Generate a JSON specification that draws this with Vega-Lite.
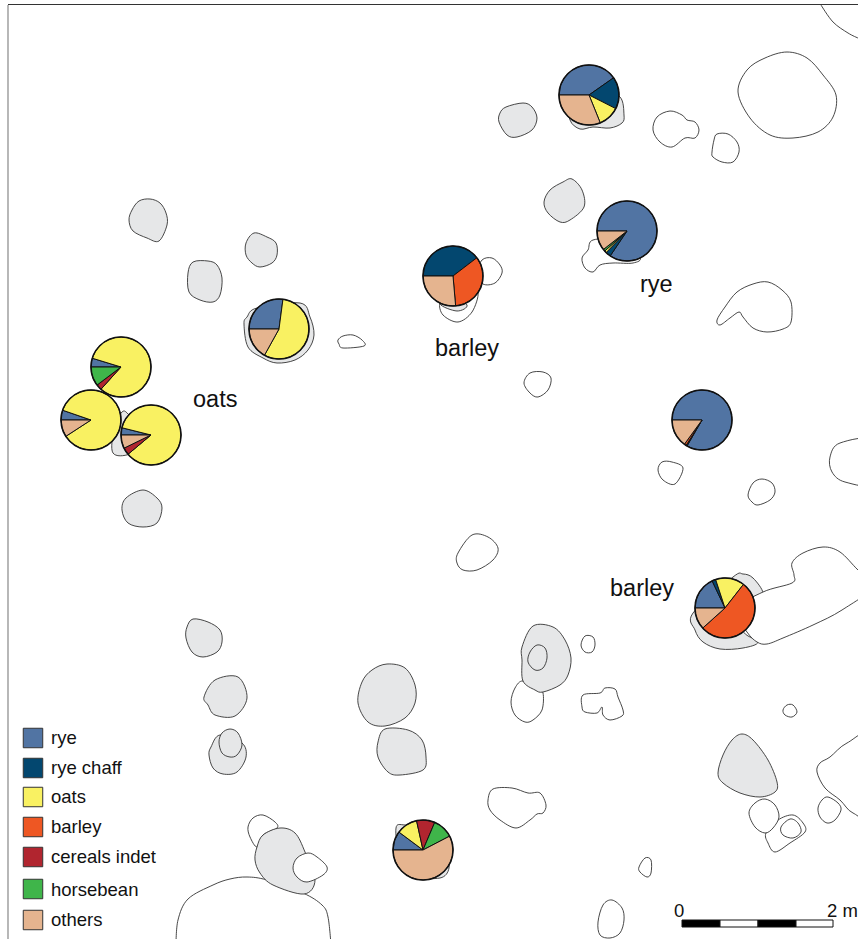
{"$schema":"https://vega.github.io/schema/vega-lite/v6.json","width":858,"height":939,"padding":0,"autosize":"none","background":"white","config":{"view":{"stroke":null},"text":{"font":"Liberation Sans"}},
"datasets":{
"open":[
{"s":"o1","x":821,"y":5},{"s":"o1","x":833,"y":22},{"s":"o1","x":848,"y":33},{"s":"o1","x":858,"y":38},
{"s":"o2","x":176,"y":945},{"s":"o2","x":178,"y":920},{"s":"o2","x":188,"y":899},{"s":"o2","x":213,"y":885},{"s":"o2","x":230,"y":879},{"s":"o2","x":247,"y":877},{"s":"o2","x":267,"y":880},{"s":"o2","x":303,"y":893},{"s":"o2","x":322,"y":905},{"s":"o2","x":328,"y":917},{"s":"o2","x":331,"y":945}
],
"closed":[
{"s":"w26","k":"e","x":263,"y":815},{"s":"w26","k":"e","x":275,"y":822},{"s":"w26","k":"e","x":277,"y":828},{"s":"w26","k":"e","x":263,"y":835},{"s":"w26","k":"e","x":257,"y":847},{"s":"w26","k":"e","x":250,"y":837},{"s":"w26","k":"e","x":248,"y":827},{"s":"w26","k":"e","x":253,"y":818},
{"s":"g1","k":"f","x":139,"y":201},{"s":"g1","k":"f","x":150,"y":199},{"s":"g1","k":"f","x":160,"y":203},{"s":"g1","k":"f","x":166,"y":213},{"s":"g1","k":"f","x":167,"y":225},{"s":"g1","k":"f","x":159,"y":241},{"s":"g1","k":"f","x":147,"y":238},{"s":"g1","k":"f","x":133,"y":231},{"s":"g1","k":"f","x":129,"y":220},{"s":"g1","k":"f","x":132,"y":210},
{"s":"g2","k":"f","x":254,"y":233},{"s":"g2","k":"f","x":267,"y":237},{"s":"g2","k":"f","x":276,"y":243},{"s":"g2","k":"f","x":277,"y":255},{"s":"g2","k":"f","x":272,"y":263},{"s":"g2","k":"f","x":260,"y":267},{"s":"g2","k":"f","x":252,"y":263},{"s":"g2","k":"f","x":246,"y":255},{"s":"g2","k":"f","x":246,"y":243},
{"s":"g3","k":"f","x":193,"y":262},{"s":"g3","k":"f","x":208,"y":261},{"s":"g3","k":"f","x":217,"y":265},{"s":"g3","k":"f","x":222,"y":278},{"s":"g3","k":"f","x":220,"y":295},{"s":"g3","k":"f","x":213,"y":302},{"s":"g3","k":"f","x":200,"y":300},{"s":"g3","k":"f","x":189,"y":292},{"s":"g3","k":"f","x":188,"y":273},
{"s":"g4","k":"f","x":257,"y":308},{"s":"g4","k":"f","x":247,"y":317},{"s":"g4","k":"f","x":244,"y":324},{"s":"g4","k":"f","x":248,"y":347},{"s":"g4","k":"f","x":263,"y":358},{"s":"g4","k":"f","x":277,"y":363},{"s":"g4","k":"f","x":295,"y":360},{"s":"g4","k":"f","x":308,"y":350},{"s":"g4","k":"f","x":314,"y":335},{"s":"g4","k":"f","x":310,"y":317},{"s":"g4","k":"f","x":300,"y":303},
{"s":"w1","k":"e","x":338,"y":340},{"s":"w1","k":"e","x":343,"y":336},{"s":"w1","k":"e","x":353,"y":335},{"s":"w1","k":"e","x":362,"y":340},{"s":"w1","k":"e","x":364,"y":346},{"s":"w1","k":"e","x":343,"y":348},{"s":"w1","k":"e","x":339,"y":344},
{"s":"g5","k":"f","x":122,"y":412},{"s":"g5","k":"f","x":130,"y":416},{"s":"g5","k":"f","x":150,"y":440},{"s":"g5","k":"f","x":130,"y":454},{"s":"g5","k":"f","x":113,"y":453},{"s":"g5","k":"f","x":114,"y":430},
{"s":"g6","k":"f","x":143,"y":490},{"s":"g6","k":"f","x":157,"y":498},{"s":"g6","k":"f","x":162,"y":508},{"s":"g6","k":"f","x":157,"y":523},{"s":"g6","k":"f","x":143,"y":527},{"s":"g6","k":"f","x":128,"y":523},{"s":"g6","k":"f","x":122,"y":510},{"s":"g6","k":"f","x":126,"y":498},
{"s":"w2","k":"e","x":787,"y":52},{"s":"w2","k":"e","x":807,"y":58},{"s":"w2","k":"e","x":823,"y":75},{"s":"w2","k":"e","x":836,"y":95},{"s":"w2","k":"e","x":833,"y":117},{"s":"w2","k":"e","x":818,"y":132},{"s":"w2","k":"e","x":793,"y":138},{"s":"w2","k":"e","x":770,"y":135},{"s":"w2","k":"e","x":750,"y":118},{"s":"w2","k":"e","x":738,"y":92},{"s":"w2","k":"e","x":747,"y":70},{"s":"w2","k":"e","x":765,"y":58},
{"s":"g7","k":"f","x":506,"y":107},{"s":"g7","k":"f","x":523,"y":103},{"s":"g7","k":"f","x":532,"y":107},{"s":"g7","k":"f","x":537,"y":118},{"s":"g7","k":"f","x":532,"y":130},{"s":"g7","k":"f","x":517,"y":137},{"s":"g7","k":"f","x":507,"y":135},{"s":"g7","k":"f","x":499,"y":122},{"s":"g7","k":"f","x":500,"y":113},
{"s":"g8","k":"f","x":570,"y":120},{"s":"g8","k":"f","x":580,"y":129},{"s":"g8","k":"f","x":593,"y":127},{"s":"g8","k":"f","x":610,"y":128},{"s":"g8","k":"f","x":622,"y":123},{"s":"g8","k":"f","x":624,"y":115},{"s":"g8","k":"f","x":620,"y":97},{"s":"g8","k":"f","x":600,"y":90},{"s":"g8","k":"f","x":570,"y":100},
{"s":"w3","k":"e","x":670,"y":111},{"s":"w3","k":"e","x":682,"y":115},{"s":"w3","k":"e","x":687,"y":120},{"s":"w3","k":"e","x":695,"y":122},{"s":"w3","k":"e","x":699,"y":130},{"s":"w3","k":"e","x":695,"y":138},{"s":"w3","k":"e","x":685,"y":138},{"s":"w3","k":"e","x":672,"y":147},{"s":"w3","k":"e","x":660,"y":142},{"s":"w3","k":"e","x":653,"y":130},{"s":"w3","k":"e","x":657,"y":117},
{"s":"w4","k":"e","x":717,"y":134},{"s":"w4","k":"e","x":728,"y":134},{"s":"w4","k":"e","x":737,"y":142},{"s":"w4","k":"e","x":739,"y":152},{"s":"w4","k":"e","x":733,"y":162},{"s":"w4","k":"e","x":722,"y":162},{"s":"w4","k":"e","x":713,"y":157},{"s":"w4","k":"e","x":712,"y":152},{"s":"w4","k":"e","x":714,"y":140},
{"s":"g9","k":"f","x":563,"y":182},{"s":"g9","k":"f","x":572,"y":179},{"s":"g9","k":"f","x":582,"y":190},{"s":"g9","k":"f","x":584,"y":207},{"s":"g9","k":"f","x":570,"y":220},{"s":"g9","k":"f","x":560,"y":222},{"s":"g9","k":"f","x":548,"y":213},{"s":"g9","k":"f","x":544,"y":202},{"s":"g9","k":"f","x":550,"y":190},
{"s":"w5","k":"e","x":593,"y":240},{"s":"w5","k":"e","x":588,"y":250},{"s":"w5","k":"e","x":582,"y":258},{"s":"w5","k":"e","x":585,"y":268},{"s":"w5","k":"e","x":593,"y":272},{"s":"w5","k":"e","x":600,"y":265},{"s":"w5","k":"e","x":613,"y":263},{"s":"w5","k":"e","x":633,"y":263},{"s":"w5","k":"e","x":640,"y":257},{"s":"w5","k":"e","x":620,"y":240},
{"s":"w6","k":"e","x":482,"y":260},{"s":"w6","k":"e","x":492,"y":258},{"s":"w6","k":"e","x":500,"y":265},{"s":"w6","k":"e","x":502,"y":273},{"s":"w6","k":"e","x":495,"y":283},{"s":"w6","k":"e","x":483,"y":284},{"s":"w6","k":"e","x":477,"y":273},
{"s":"w7","k":"e","x":440,"y":303},{"s":"w7","k":"e","x":443,"y":315},{"s":"w7","k":"e","x":458,"y":322},{"s":"w7","k":"e","x":472,"y":312},{"s":"w7","k":"e","x":478,"y":293},{"s":"w7","k":"e","x":467,"y":293},{"s":"w7","k":"e","x":450,"y":300},
{"s":"g10","k":"f","x":440,"y":304},{"s":"g10","k":"f","x":457,"y":311},{"s":"g10","k":"f","x":467,"y":305},{"s":"g10","k":"f","x":450,"y":295},
{"s":"w8","k":"e","x":753,"y":284},{"s":"w8","k":"e","x":768,"y":282},{"s":"w8","k":"e","x":782,"y":290},{"s":"w8","k":"e","x":791,"y":302},{"s":"w8","k":"e","x":791,"y":322},{"s":"w8","k":"e","x":783,"y":329},{"s":"w8","k":"e","x":767,"y":332},{"s":"w8","k":"e","x":753,"y":328},{"s":"w8","k":"e","x":743,"y":317},{"s":"w8","k":"e","x":739,"y":312},{"s":"w8","k":"e","x":730,"y":318},{"s":"w8","k":"e","x":720,"y":325},{"s":"w8","k":"e","x":717,"y":320},{"s":"w8","k":"e","x":725,"y":307},{"s":"w8","k":"e","x":737,"y":292},
{"s":"w9","k":"e","x":530,"y":373},{"s":"w9","k":"e","x":543,"y":372},{"s":"w9","k":"e","x":551,"y":378},{"s":"w9","k":"e","x":548,"y":390},{"s":"w9","k":"e","x":538,"y":397},{"s":"w9","k":"e","x":530,"y":393},{"s":"w9","k":"e","x":524,"y":383},
{"s":"w10","k":"e","x":662,"y":462},{"s":"w10","k":"e","x":672,"y":462},{"s":"w10","k":"e","x":683,"y":468},{"s":"w10","k":"e","x":675,"y":484},{"s":"w10","k":"e","x":663,"y":480},{"s":"w10","k":"e","x":658,"y":470},
{"s":"w11","k":"e","x":762,"y":479},{"s":"w11","k":"e","x":772,"y":483},{"s":"w11","k":"e","x":775,"y":492},{"s":"w11","k":"e","x":770,"y":500},{"s":"w11","k":"e","x":758,"y":505},{"s":"w11","k":"e","x":752,"y":502},{"s":"w11","k":"e","x":748,"y":495},{"s":"w11","k":"e","x":753,"y":483},
{"s":"w12","k":"e","x":875,"y":441},{"s":"w12","k":"e","x":840,"y":443},{"s":"w12","k":"e","x":830,"y":457},{"s":"w12","k":"e","x":832,"y":472},{"s":"w12","k":"e","x":845,"y":482},{"s":"w12","k":"e","x":875,"y":483},
{"s":"w13","k":"e","x":472,"y":535},{"s":"w13","k":"e","x":488,"y":537},{"s":"w13","k":"e","x":498,"y":548},{"s":"w13","k":"e","x":493,"y":560},{"s":"w13","k":"e","x":477,"y":570},{"s":"w13","k":"e","x":463,"y":570},{"s":"w13","k":"e","x":457,"y":563},{"s":"w13","k":"e","x":458,"y":553},
{"s":"g11","k":"f","x":733,"y":577},{"s":"g11","k":"f","x":743,"y":574},{"s":"g11","k":"f","x":753,"y":578},{"s":"g11","k":"f","x":763,"y":593},{"s":"g11","k":"f","x":755,"y":602},{"s":"g11","k":"f","x":743,"y":630},{"s":"g11","k":"f","x":758,"y":642},{"s":"g11","k":"f","x":743,"y":648},{"s":"g11","k":"f","x":720,"y":649},{"s":"g11","k":"f","x":703,"y":642},{"s":"g11","k":"f","x":695,"y":630},{"s":"g11","k":"f","x":693,"y":613},
{"s":"w14","k":"e","x":763,"y":592},{"s":"w14","k":"e","x":792,"y":583},{"s":"w14","k":"e","x":794,"y":575},{"s":"w14","k":"e","x":792,"y":563},{"s":"w14","k":"e","x":803,"y":553},{"s":"w14","k":"e","x":823,"y":547},{"s":"w14","k":"e","x":840,"y":552},{"s":"w14","k":"e","x":858,"y":570},{"s":"w14","k":"e","x":875,"y":585},{"s":"w14","k":"e","x":842,"y":610},{"s":"w14","k":"e","x":813,"y":625},{"s":"w14","k":"e","x":783,"y":638},{"s":"w14","k":"e","x":767,"y":644},{"s":"w14","k":"e","x":757,"y":642},{"s":"w14","k":"e","x":747,"y":632},{"s":"w14","k":"e","x":735,"y":610},
{"s":"w15","k":"e","x":523,"y":681},{"s":"w15","k":"e","x":537,"y":690},{"s":"w15","k":"e","x":543,"y":693},{"s":"w15","k":"e","x":542,"y":710},{"s":"w15","k":"e","x":533,"y":720},{"s":"w15","k":"e","x":525,"y":722},{"s":"w15","k":"e","x":515,"y":715},{"s":"w15","k":"e","x":511,"y":702},{"s":"w15","k":"e","x":515,"y":688},
{"s":"g12","k":"f","x":533,"y":626},{"s":"g12","k":"f","x":553,"y":627},{"s":"g12","k":"f","x":565,"y":640},{"s":"g12","k":"f","x":571,"y":658},{"s":"g12","k":"f","x":568,"y":675},{"s":"g12","k":"f","x":560,"y":685},{"s":"g12","k":"f","x":543,"y":692},{"s":"g12","k":"f","x":535,"y":690},{"s":"g12","k":"f","x":523,"y":681},{"s":"g12","k":"f","x":522,"y":660},{"s":"g12","k":"f","x":522,"y":647},
{"s":"g13","k":"f","x":537,"y":645},{"s":"g13","k":"f","x":545,"y":648},{"s":"g13","k":"f","x":547,"y":658},{"s":"g13","k":"f","x":543,"y":668},{"s":"g13","k":"f","x":535,"y":670},{"s":"g13","k":"f","x":528,"y":662},{"s":"g13","k":"f","x":530,"y":652},
{"s":"w16","k":"e","x":585,"y":636},{"s":"w16","k":"e","x":593,"y":637},{"s":"w16","k":"e","x":595,"y":645},{"s":"w16","k":"e","x":592,"y":652},{"s":"w16","k":"e","x":585,"y":652},{"s":"w16","k":"e","x":581,"y":645},
{"s":"w17","k":"e","x":583,"y":695},{"s":"w17","k":"e","x":600,"y":693},{"s":"w17","k":"e","x":605,"y":688},{"s":"w17","k":"e","x":615,"y":689},{"s":"w17","k":"e","x":618,"y":697},{"s":"w17","k":"e","x":623,"y":710},{"s":"w17","k":"e","x":622,"y":716},{"s":"w17","k":"e","x":610,"y":720},{"s":"w17","k":"e","x":603,"y":715},{"s":"w17","k":"e","x":602,"y":707},{"s":"w17","k":"e","x":597,"y":713},{"s":"w17","k":"e","x":585,"y":712},{"s":"w17","k":"e","x":582,"y":707},
{"s":"w18","k":"e","x":787,"y":705},{"s":"w18","k":"e","x":793,"y":705},{"s":"w18","k":"e","x":797,"y":712},{"s":"w18","k":"e","x":792,"y":717},{"s":"w18","k":"e","x":785,"y":715},{"s":"w18","k":"e","x":783,"y":710},
{"s":"g14","k":"f","x":742,"y":734},{"s":"g14","k":"f","x":753,"y":740},{"s":"g14","k":"f","x":768,"y":760},{"s":"g14","k":"f","x":777,"y":782},{"s":"g14","k":"f","x":775,"y":792},{"s":"g14","k":"f","x":760,"y":797},{"s":"g14","k":"f","x":740,"y":793},{"s":"g14","k":"f","x":723,"y":783},{"s":"g14","k":"f","x":718,"y":773},{"s":"g14","k":"f","x":723,"y":755},{"s":"g14","k":"f","x":732,"y":740},
{"s":"w19","k":"e","x":875,"y":735},{"s":"w19","k":"e","x":847,"y":743},{"s":"w19","k":"e","x":830,"y":757},{"s":"w19","k":"e","x":820,"y":763},{"s":"w19","k":"e","x":817,"y":772},{"s":"w19","k":"e","x":825,"y":788},{"s":"w19","k":"e","x":840,"y":800},{"s":"w19","k":"e","x":853,"y":813},{"s":"w19","k":"e","x":875,"y":816},
{"s":"w20","k":"e","x":828,"y":797},{"s":"w20","k":"e","x":838,"y":803},{"s":"w20","k":"e","x":841,"y":810},{"s":"w20","k":"e","x":835,"y":820},{"s":"w20","k":"e","x":827,"y":823},{"s":"w20","k":"e","x":820,"y":817},{"s":"w20","k":"e","x":818,"y":808},{"s":"w20","k":"e","x":822,"y":800},
{"s":"w22","k":"e","x":778,"y":820},{"s":"w22","k":"e","x":793,"y":815},{"s":"w22","k":"e","x":803,"y":823},{"s":"w22","k":"e","x":805,"y":832},{"s":"w22","k":"e","x":790,"y":843},{"s":"w22","k":"e","x":775,"y":852},{"s":"w22","k":"e","x":768,"y":843},{"s":"w22","k":"e","x":766,"y":833},
{"s":"w21","k":"e","x":765,"y":799},{"s":"w21","k":"e","x":775,"y":805},{"s":"w21","k":"e","x":779,"y":817},{"s":"w21","k":"e","x":773,"y":828},{"s":"w21","k":"e","x":765,"y":833},{"s":"w21","k":"e","x":755,"y":827},{"s":"w21","k":"e","x":749,"y":813},{"s":"w21","k":"e","x":755,"y":803},
{"s":"w23","k":"e","x":790,"y":819},{"s":"w23","k":"e","x":798,"y":823},{"s":"w23","k":"e","x":801,"y":832},{"s":"w23","k":"e","x":793,"y":838},{"s":"w23","k":"e","x":783,"y":835},{"s":"w23","k":"e","x":781,"y":827},
{"s":"w24","k":"e","x":493,"y":789},{"s":"w24","k":"e","x":512,"y":788},{"s":"w24","k":"e","x":528,"y":793},{"s":"w24","k":"e","x":540,"y":793},{"s":"w24","k":"e","x":546,"y":805},{"s":"w24","k":"e","x":543,"y":813},{"s":"w24","k":"e","x":537,"y":814},{"s":"w24","k":"e","x":530,"y":820},{"s":"w24","k":"e","x":516,"y":828},{"s":"w24","k":"e","x":500,"y":820},{"s":"w24","k":"e","x":490,"y":810},{"s":"w24","k":"e","x":488,"y":800},
{"s":"w25","k":"e","x":645,"y":858},{"s":"w25","k":"e","x":651,"y":860},{"s":"w25","k":"e","x":651,"y":873},{"s":"w25","k":"e","x":647,"y":877},{"s":"w25","k":"e","x":640,"y":872},{"s":"w25","k":"e","x":639,"y":867},
{"s":"w27","k":"e","x":612,"y":900},{"s":"w27","k":"e","x":622,"y":908},{"s":"w27","k":"e","x":624,"y":920},{"s":"w27","k":"e","x":620,"y":933},{"s":"w27","k":"e","x":610,"y":938},{"s":"w27","k":"e","x":600,"y":935},{"s":"w27","k":"e","x":598,"y":922},{"s":"w27","k":"e","x":603,"y":905},
{"s":"g15","k":"f","x":193,"y":619},{"s":"g15","k":"f","x":208,"y":622},{"s":"g15","k":"f","x":220,"y":630},{"s":"g15","k":"f","x":222,"y":642},{"s":"g15","k":"f","x":217,"y":652},{"s":"g15","k":"f","x":203,"y":657},{"s":"g15","k":"f","x":192,"y":652},{"s":"g15","k":"f","x":186,"y":638},{"s":"g15","k":"f","x":187,"y":627},
{"s":"g16","k":"f","x":215,"y":680},{"s":"g16","k":"f","x":238,"y":677},{"s":"g16","k":"f","x":247,"y":698},{"s":"g16","k":"f","x":235,"y":716},{"s":"g16","k":"f","x":215,"y":715},{"s":"g16","k":"f","x":208,"y":705},{"s":"g16","k":"f","x":204,"y":697},
{"s":"g17","k":"f","x":211,"y":747},{"s":"g17","k":"f","x":220,"y":735},{"s":"g17","k":"f","x":242,"y":743},{"s":"g17","k":"f","x":246,"y":757},{"s":"g17","k":"f","x":237,"y":772},{"s":"g17","k":"f","x":223,"y":774},{"s":"g17","k":"f","x":213,"y":768},{"s":"g17","k":"f","x":209,"y":755},
{"s":"g18","k":"f","x":230,"y":729},{"s":"g18","k":"f","x":238,"y":733},{"s":"g18","k":"f","x":242,"y":745},{"s":"g18","k":"f","x":237,"y":755},{"s":"g18","k":"f","x":230,"y":757},{"s":"g18","k":"f","x":222,"y":753},{"s":"g18","k":"f","x":219,"y":742},{"s":"g18","k":"f","x":222,"y":733},
{"s":"g19","k":"f","x":387,"y":664},{"s":"g19","k":"f","x":405,"y":668},{"s":"g19","k":"f","x":415,"y":685},{"s":"g19","k":"f","x":415,"y":703},{"s":"g19","k":"f","x":405,"y":718},{"s":"g19","k":"f","x":385,"y":726},{"s":"g19","k":"f","x":368,"y":722},{"s":"g19","k":"f","x":358,"y":703},{"s":"g19","k":"f","x":362,"y":682},{"s":"g19","k":"f","x":372,"y":670},
{"s":"g20","k":"f","x":385,"y":729},{"s":"g20","k":"f","x":408,"y":730},{"s":"g20","k":"f","x":422,"y":740},{"s":"g20","k":"f","x":426,"y":757},{"s":"g20","k":"f","x":423,"y":770},{"s":"g20","k":"f","x":400,"y":775},{"s":"g20","k":"f","x":388,"y":772},{"s":"g20","k":"f","x":378,"y":757},{"s":"g20","k":"f","x":378,"y":742},
{"s":"g21","k":"f","x":280,"y":828},{"s":"g21","k":"f","x":295,"y":833},{"s":"g21","k":"f","x":305,"y":852},{"s":"g21","k":"f","x":315,"y":880},{"s":"g21","k":"f","x":304,"y":894},{"s":"g21","k":"f","x":273,"y":885},{"s":"g21","k":"f","x":260,"y":873},{"s":"g21","k":"f","x":255,"y":860},{"s":"g21","k":"f","x":257,"y":847},{"s":"g21","k":"f","x":263,"y":835},
{"s":"w28","k":"e","x":308,"y":853},{"s":"w28","k":"e","x":317,"y":857},{"s":"w28","k":"e","x":327,"y":867},{"s":"w28","k":"e","x":323,"y":875},{"s":"w28","k":"e","x":307,"y":882},{"s":"w28","k":"e","x":297,"y":877},{"s":"w28","k":"e","x":293,"y":868},{"s":"w28","k":"e","x":297,"y":858},
{"s":"g22","k":"f","x":396,"y":828},{"s":"g22","k":"f","x":405,"y":825},{"s":"g22","k":"f","x":430,"y":830},{"s":"g22","k":"f","x":445,"y":850},{"s":"g22","k":"f","x":449,"y":868},{"s":"g22","k":"f","x":440,"y":878},{"s":"g22","k":"f","x":415,"y":875},{"s":"g22","k":"f","x":400,"y":855}
],
"slices":[
{"p":"A","x":589,"y":95,"c":"rye","a":0,"b":145},{"p":"A","x":589,"y":95,"c":"rye chaff","a":145,"b":207},{"p":"A","x":589,"y":95,"c":"oats","a":207,"b":248},{"p":"A","x":589,"y":95,"c":"others","a":248,"b":360},
{"p":"B","x":627,"y":231,"c":"rye","a":0,"b":304},{"p":"B","x":627,"y":231,"c":"rye chaff","a":304,"b":314},{"p":"B","x":627,"y":231,"c":"oats","a":314,"b":318},{"p":"B","x":627,"y":231,"c":"horsebean","a":318,"b":322},{"p":"B","x":627,"y":231,"c":"others","a":322,"b":360},
{"p":"C","x":453,"y":276,"c":"rye chaff","a":0,"b":142.6},{"p":"C","x":453,"y":276,"c":"barley","a":142.6,"b":265},{"p":"C","x":453,"y":276,"c":"others","a":265,"b":360},
{"p":"D","x":279,"y":329,"c":"rye","a":0,"b":97.6},{"p":"D","x":279,"y":329,"c":"oats","a":97.6,"b":299},{"p":"D","x":279,"y":329,"c":"others","a":299,"b":360},
{"p":"E","x":121,"y":367,"c":"rye","a":0,"b":17},{"p":"E","x":121,"y":367,"c":"oats","a":17,"b":312},{"p":"E","x":121,"y":367,"c":"cereals indet","a":312,"b":323},{"p":"E","x":121,"y":367,"c":"horsebean","a":323,"b":360},
{"p":"G","x":151,"y":435,"c":"rye","a":0,"b":14},{"p":"G","x":151,"y":435,"c":"oats","a":14,"b":320},{"p":"G","x":151,"y":435,"c":"cereals indet","a":320,"b":334},{"p":"G","x":151,"y":435,"c":"others","a":334,"b":360},
{"p":"F","x":91,"y":420,"c":"rye","a":0,"b":19},{"p":"F","x":91,"y":420,"c":"oats","a":19,"b":327},{"p":"F","x":91,"y":420,"c":"others","a":327,"b":360},
{"p":"H","x":702,"y":420,"c":"rye","a":0,"b":300},{"p":"H","x":702,"y":420,"c":"rye chaff","a":300,"b":302},{"p":"H","x":702,"y":420,"c":"barley","a":302,"b":306},{"p":"H","x":702,"y":420,"c":"others","a":306,"b":360},
{"p":"I","x":725,"y":608,"c":"rye","a":0,"b":64.6},{"p":"I","x":725,"y":608,"c":"rye chaff","a":64.6,"b":71.8},{"p":"I","x":725,"y":608,"c":"oats","a":71.8,"b":128},{"p":"I","x":725,"y":608,"c":"barley","a":128,"b":318},{"p":"I","x":725,"y":608,"c":"others","a":318,"b":360},
{"p":"J","x":423,"y":850,"c":"rye","a":0,"b":36.7},{"p":"J","x":423,"y":850,"c":"oats","a":36.7,"b":77.6},{"p":"J","x":423,"y":850,"c":"cereals indet","a":77.6,"b":113},{"p":"J","x":423,"y":850,"c":"horsebean","a":113,"b":152.5},{"p":"J","x":423,"y":850,"c":"others","a":152.5,"b":360}
],
"pies":[{"x":589,"y":95},{"x":627,"y":231},{"x":453,"y":276},{"x":279,"y":329},{"x":121,"y":367},{"x":151,"y":435},{"x":91,"y":420},{"x":702,"y":420},{"x":725,"y":608},{"x":423,"y":850}],
"legend":[
{"c":"rye","x":33,"y":738,"tx":51,"ty":744},{"c":"rye chaff","x":33,"y":768,"tx":51,"ty":774},{"c":"oats","x":33,"y":797,"tx":51,"ty":803},{"c":"barley","x":33,"y":827,"tx":51,"ty":833},{"c":"cereals indet","x":33,"y":857,"tx":51,"ty":863},{"c":"horsebean","x":33,"y":889,"tx":51,"ty":896},{"c":"others","x":33,"y":920,"tx":51,"ty":926}
],
"notes":[{"t":"oats","x":193,"y":407},{"t":"rye","x":640,"y":292},{"t":"barley","x":435,"y":356},{"t":"barley","x":610,"y":596}],
"scaleText":[{"t":"0","x":674,"y":917},{"t":"2 m","x":827,"y":917}],
"bar":[{"x":682,"x2":720,"y":920,"y2":927,"k":"d"},{"x":720,"x2":758,"y":920,"y2":927,"k":"l"},{"x":758,"x2":796,"y":920,"y2":927,"k":"d"},{"x":796,"x2":833,"y":920,"y2":927,"k":"l"}],
"frame":[{"x":8,"x2":8,"y":5,"y2":939,"e":"left"},{"x":8,"x2":858,"y":4.5,"y2":4.5,"e":"top"}]
},
"encoding":{
"x":{"field":"x","type":"quantitative","axis":null,"scale":{"domain":[0,858],"nice":false,"zero":false}},
"y":{"field":"y","type":"quantitative","axis":null,"scale":{"domain":[939,0],"nice":false,"zero":false}}
},
"layer":[
{"data":{"name":"frame"},"mark":{"type":"rule","strokeWidth":1.2},"encoding":{"x2":{"field":"x2"},"y2":{"field":"y2"},"stroke":{"field":"e","type":"nominal","legend":null,"scale":{"domain":["left","top"],"range":["#888888","#333333"]}}}},
{"data":{"name":"open"},"mark":{"type":"line","interpolate":"cardinal","stroke":"#333333","strokeWidth":0.9,"fill":"#ffffff","clip":true},"encoding":{"detail":{"field":"s"},"order":{"value":null}}},
{"data":{"name":"closed"},"mark":{"type":"line","interpolate":"cardinal-closed","stroke":"#333333","strokeWidth":0.9,"clip":true},"encoding":{"detail":{"field":"s"},"order":{"value":null},"fill":{"field":"k","type":"nominal","legend":null,"scale":{"domain":["f","e"],"range":["#e6e7e8","#ffffff"]}}}},
{"data":{"name":"slices"},"mark":{"type":"arc","outerRadius":30,"innerRadius":0,"stroke":"#111111","strokeWidth":1},"encoding":{"theta":{"field":"a","type":"quantitative","scale":{"domain":[0,360],"range":[4.71239,10.99557]}},"theta2":{"field":"b"},"fill":{"field":"c","type":"nominal","legend":null,"scale":{"domain":["rye","rye chaff","oats","barley","cereals indet","horsebean","others"],"range":["#5174a3","#03476f","#f9f162","#ee5723","#b1252f","#3fb54a","#e5b48f"]}}}},
{"data":{"name":"pies"},"mark":{"type":"point","shape":"circle","size":3600,"filled":false,"stroke":"#111111","strokeWidth":1.6,"opacity":1}},
{"data":{"name":"legend"},"mark":{"type":"square","size":380,"stroke":"#333333","strokeWidth":1,"opacity":1},"encoding":{"fill":{"field":"c","type":"nominal","legend":null,"scale":{"domain":["rye","rye chaff","oats","barley","cereals indet","horsebean","others"],"range":["#5174a3","#03476f","#f9f162","#ee5723","#b1252f","#3fb54a","#e5b48f"]}}}},
{"data":{"name":"legend"},"mark":{"type":"text","align":"left","baseline":"alphabetic","fontSize":18.5,"fill":"#111111"},"encoding":{"x":{"field":"tx","type":"quantitative"},"y":{"field":"ty","type":"quantitative"},"text":{"field":"c"}}},
{"data":{"name":"notes"},"mark":{"type":"text","align":"left","baseline":"alphabetic","fontSize":23.5,"fill":"#111111"},"encoding":{"text":{"field":"t"}}},
{"data":{"name":"bar"},"mark":{"type":"rect","stroke":"#111111","strokeWidth":1},"encoding":{"x2":{"field":"x2"},"y2":{"field":"y2"},"fill":{"field":"k","type":"nominal","legend":null,"scale":{"domain":["d","l"],"range":["#000000","#ffffff"]}}}},
{"data":{"name":"scaleText"},"mark":{"type":"text","align":"left","baseline":"alphabetic","fontSize":18.5,"fill":"#111111"},"encoding":{"text":{"field":"t"}}}
],
"resolve":{"scale":{"fill":"independent"}}
}
